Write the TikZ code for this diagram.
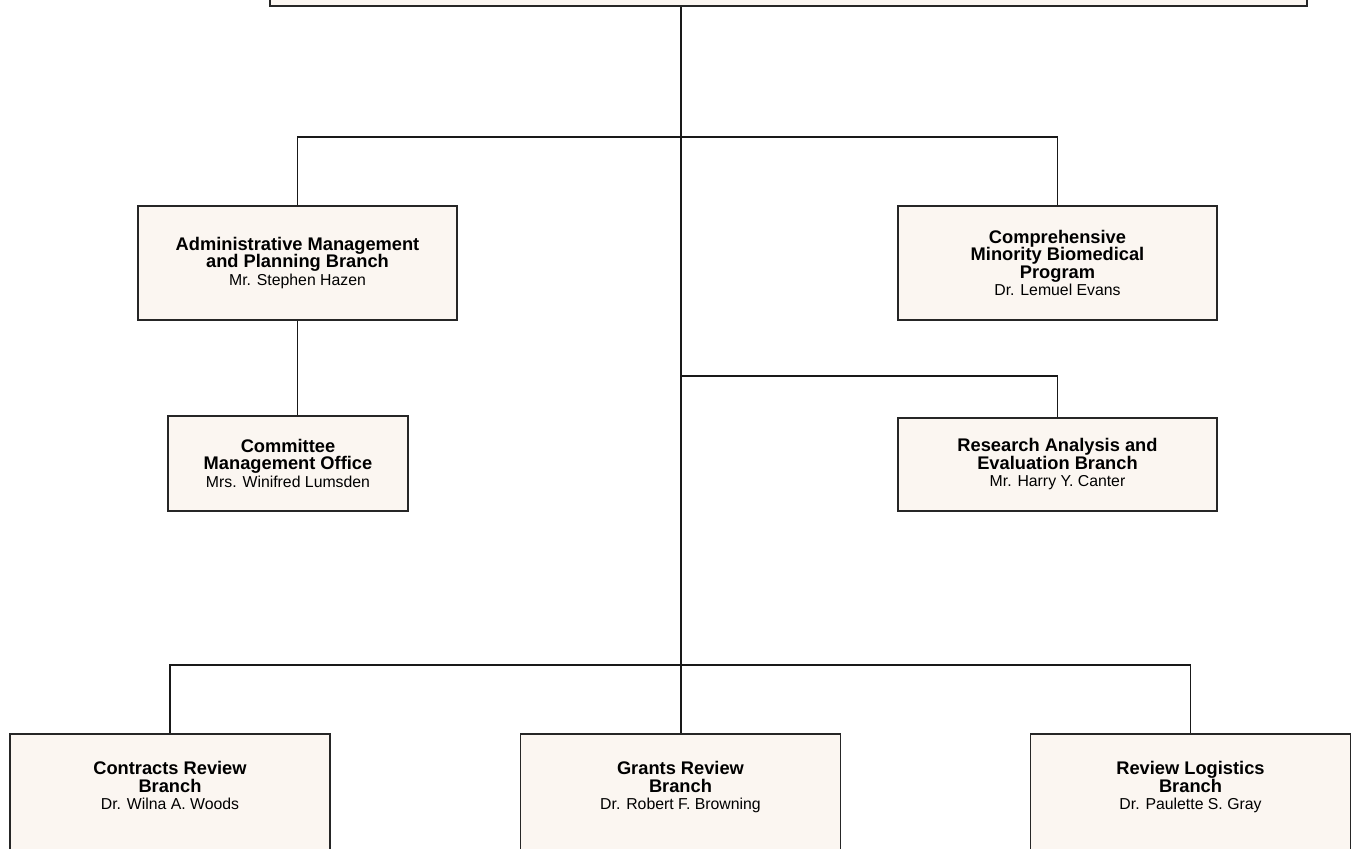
\documentclass[tikz,border=0pt]{standalone}
\usepackage{fontspec}
\setmainfont{Liberation Sans}
\definecolor{boxfill}{HTML}{FBF6F1}

\newcommand{\head}[1]{\textbf{#1}}
\newcommand{\who}[1]{{\fontsize{9}{10}\selectfont #1}}
\newcommand{\chartfont}{\fontsize{10.4}{10}\selectfont\lineskiplimit=-20pt\relax}

\tikzset{
  unit/.style={draw=black!85, line width=1pt, fill=boxfill, anchor=north,
    align=center, inner sep=2pt, font=\chartfont},
  lowunit/.style={unit, minimum width=6.4cm, inner ysep=0.55cm, text depth=2cm},
  link/.style={line width=1.1pt, black!90},
}

\begin{document}
\begin{tikzpicture}[x=0.02cm, y=-0.02cm]
  \useasboundingbox (0,0) rectangle (1351,848);

  \node[unit, anchor=south, minimum width=20.74cm, minimum height=2cm] (top) at (788.5,7) {};

  \node[unit, minimum width=6.38cm, minimum height=2.28cm] (admin) at (297.5,205)
    {\head{Administrative Management}\\\head{and Planning Branch}\\\who{Mr. Stephen Hazen}};
  \node[unit, minimum width=6.38cm, minimum height=2.28cm] (comp) at (1057.5,205)
    {\head{Comprehensive}\\\head{Minority Biomedical}\\\head{Program}\\\who{Dr. Lemuel Evans}};
  \node[unit, minimum width=4.8cm, minimum height=1.9cm] (committee) at (288,415)
    {\head{Committee}\\\head{Management Office}\\\who{Mrs. Winifred Lumsden}};
  \node[unit, minimum width=6.38cm, minimum height=1.86cm] (research) at (1057.5,417)
    {\head{Research Analysis and}\\\head{Evaluation Branch}\\\who{Mr. Harry Y. Canter}};

  \node[lowunit] (contracts) at (170,733)
    {\head{Contracts Review}\\\head{Branch}\\\who{Dr. Wilna A. Woods}};
  \node[lowunit] (grants) at (680.5,733)
    {\head{Grants Review}\\\head{Branch}\\\who{Dr. Robert F. Browning}};
  \node[lowunit] (logistics) at (1190.5,733)
    {\head{Review Logistics}\\\head{Branch}\\\who{Dr. Paulette S. Gray}};

  % spine and branches
  \coordinate (hub) at (681,137);
  \coordinate (mid) at (681,376);
  \coordinate (foot) at (681,665);

  \draw[link] (top.south -| hub) -- (foot);
  \draw[link] (admin.north) |- (hub) -| (comp.north);
  \draw[link] (mid) -| (research.north);
  \draw[link] (admin.south) -- (admin.south |- committee.north);
  \draw[link] (contracts.north) |- (foot) -| (logistics.north);
  \draw[link] (foot) -- (foot |- grants.north);
\end{tikzpicture}
\end{document}
